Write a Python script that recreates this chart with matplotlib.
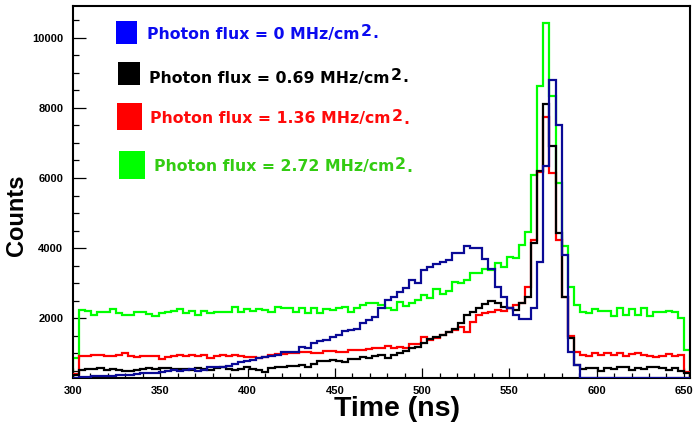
import matplotlib
matplotlib.use("Agg")
import matplotlib.pyplot as plt
import numpy as np
from matplotlib.patches import Rectangle
from matplotlib.ticker import MultipleLocator

# time histogram, 3.5 ns bins starting at 300 ns
bin_lo, bin_hi, n_bins = 300, 653.5, 101

flux_labels = ["0", "0.69", "1.36", "2.72"]

counts_0 = [300, 310, 320, 330, 330, 340, 350, 370, 370, 380, 400, 420, 420, 440, 470, 490, 510, 490,
            510, 530, 490, 520, 590, 590, 600, 630, 680, 740, 760, 800, 850, 900, 920, 950,
            1030, 1030, 1040, 1180, 1130, 1300, 1350, 1380, 1450, 1520, 1630, 1660, 1700, 1850, 1950, 2040,
            2300, 2510, 2610, 2750, 2850, 3100, 2990, 3370, 3470, 3530, 3610, 3660, 3870, 3870, 4060, 3990, 3990,
            3700, 3400, 2900, 2600, 2300, 2100, 1960, 1960, 2300, 3600, 6350, 8800, 7510, 3800, 1040, 650,
            300, 300, 300, 300, 300, 300, 300, 300, 300, 300, 300, 300, 300, 300, 300, 300, 300, 300]

counts_069 = [370, 514, 533, 540, 571, 514, 552, 514, 495, 495, 514, 533, 571, 552, 571, 571, 540,
              540, 533, 514, 562, 533, 514, 562, 590, 550, 514, 533, 590, 550, 514, 467, 562, 590,
              610, 640, 620, 650, 600, 700, 780, 760, 800, 780, 740, 840, 830, 880, 870, 920,
              943, 850, 940, 1000, 1060, 1130, 1180, 1280, 1400, 1470, 1510, 1610, 1700, 1870, 2090, 2180,
              2280, 2400, 2500, 2420, 2320, 2280, 2230, 2420, 2610,
              4130, 6210, 8110, 6900, 4420, 2610, 1420, 660,
              530, 560, 580, 480, 560, 550, 590, 590, 514, 560, 540, 600, 610, 560, 514, 560, 500, 420]

counts_136 = [400, 914, 914, 943, 943, 914, 914, 943, 990, 924, 895, 924, 914, 914, 820, 895, 914,
              930, 914, 930, 914, 930, 850, 914, 930, 914, 930, 914, 895, 895, 850, 900, 943, 971,
              960, 990, 990, 1040, 1040, 990, 990, 1050, 1050, 1040, 1040, 1086, 1100, 1100, 1120, 1150,
              1140, 1200, 1140, 1180, 1150, 1260, 1260, 1470, 1380, 1440, 1520, 1600, 1660, 1750, 1610, 1900,
              2090, 2130, 2180, 2230, 2200, 2280,
              2370, 2420, 2900, 4230, 6180, 7730, 6150, 4230, 2600, 1500, 1040,
              943, 914, 990, 930, 1000, 943, 990, 914, 971, 1010, 943, 914, 876, 914, 971, 914, 950, 470]

counts_272 = [850, 2230, 2200, 2090, 2180, 2180, 2250, 2130, 2090, 2090, 2160, 2180, 2110, 2060, 2130,
              2180, 2200, 2270, 2130, 2200, 2090, 2200, 2130, 2160, 2180, 2180, 2310, 2180, 2270, 2190,
              2270, 2230, 2180, 2320,
              2280, 2280, 2160, 2280, 2150, 2280, 2150, 2250, 2220, 2280, 2320, 2180, 2300, 2370, 2420, 2420,
              2370, 2300, 2230, 2450, 2330, 2420, 2510, 2660, 2560, 2820, 2700, 2780, 3040, 2990, 3090,
              3280, 3300, 3400, 3380, 3560, 3470, 3750, 3720, 4090, 4470, 6090, 8630, 10420, 8340, 5850,
              4060, 2900, 2370, 2180, 2130, 2250, 2210, 2210, 2060, 2280, 2090, 2250, 2090, 2280, 2060,
              2180, 2180, 2190, 2180, 1990, 1100]

line_colors = ["#0a0a96", "black", "#ff0000", "#00ff00"]
box_colors = ["#0000ff", "black", "#ff0000", "#00ff00"]
text_colors = ["#0b0bf0", "black", "#ff0a0a", "#33cc12"]

W, H = 695, 423
fig = plt.figure(figsize=(W / 100, H / 100), dpi=100)
ax = fig.add_axes([73 / W, 1 - 378 / H, (690 - 73) / W, (378 - 6) / H])

edges = np.linspace(bin_lo, bin_hi, n_bins + 1)
series = [counts_0, counts_069, counts_136, counts_272]
zorders = [5, 4, 3, 2]
for vals, c, z in zip(series, line_colors, zorders):
    ax.stairs(vals, edges, baseline=0, color=c, lw=1.6, zorder=z)

ax.set_xlim(300, 653.5)
ax.set_ylim(286, 10914)

ax.xaxis.set_major_locator(MultipleLocator(50))
ax.xaxis.set_minor_locator(MultipleLocator(10))
ax.yaxis.set_major_locator(MultipleLocator(2000))
ax.yaxis.set_minor_locator(MultipleLocator(500))
ax.tick_params(which="both", direction="in", top=False, right=False, width=0.9)
ax.tick_params(axis="x", which="major", length=7.5, pad=6)
ax.tick_params(axis="x", which="minor", length=3.8)
ax.tick_params(axis="y", which="major", length=9.5, pad=7)
ax.tick_params(axis="y", which="minor", length=4.5)
for lab in ax.get_xticklabels() + ax.get_yticklabels():
    lab.set_fontfamily("Liberation Sans")
    lab.set_fontweight("bold")
    lab.set_fontsize(8)
for sp in ax.spines.values():
    sp.set_linewidth(1.5)

fig.text(397 / W, 1 - 416 / H, "Time (ns)", ha="center", va="baseline",
         fontfamily="Liberation Sans", fontweight="bold", fontsize=20.5)
fig.text(28 / W, 1 - 215 / H, "Counts", ha="right", va="center", rotation=90,
         fontfamily="Liberation Sans", fontweight="bold", fontsize=17)

# legend boxes and texts (pixel positions from top-left)
boxes = [(116, 21, 137, 44), (118, 62, 140, 85), (117, 103, 142, 130), (119, 151, 145, 179)]
text_pos = [(147, 38.5), (149, 82.5), (150, 123.5), (153.5, 171.5)]

renderer = fig.canvas.get_renderer()
for lab, bc, tc, (x0, y0, x1, y1), (tx, ty) in zip(flux_labels, box_colors, text_colors, boxes, text_pos):
    fig.add_artist(Rectangle((x0 / W, 1 - y1 / H), (x1 - x0) / W, (y1 - y0) / H,
                             transform=fig.transFigure, color=bc, lw=0))
    kw = dict(fontfamily="DejaVu Sans", fontweight="bold", fontsize=11.3, color=tc, va="baseline")
    t = fig.text(tx / W, 1 - ty / H, f"Photon flux = {lab} MHz/cm", **kw)
    bb = t.get_window_extent(renderer)
    t2 = fig.text((bb.x1 + 1) / W, 1 - (ty - 2.5) / H, "2", **kw)
    bb2 = t2.get_window_extent(renderer)
    fig.text((bb2.x1 + 0.5) / W, 1 - ty / H, ".", **kw)

fig.savefig("out.png", dpi=100)
